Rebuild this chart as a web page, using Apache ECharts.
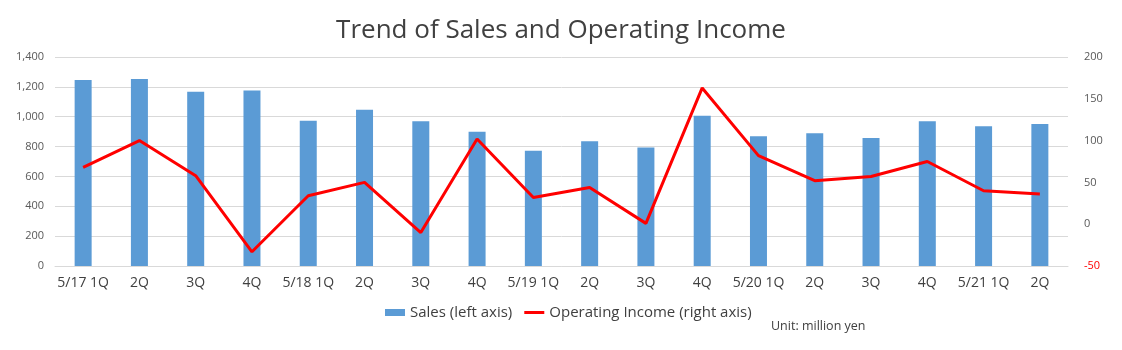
<!DOCTYPE html>
<html>
<head>
<meta charset="utf-8">
<script src="https://cdn.jsdelivr.net/npm/echarts@6/dist/echarts.min.js"></script>
<style>html,body{margin:0;padding:0;background:#fff}#c{width:1122px;height:350px}</style>
</head>
<body>
<div id="c"></div>
<script>
const categories = ['5/17 1Q','2Q','3Q','4Q','5/18 1Q','2Q','3Q','4Q','5/19 1Q','2Q','3Q','4Q','5/20 1Q','2Q','3Q','4Q','5/21 1Q','2Q'];
const sales = [1246,1252,1168,1175,973,1047,969,900,772,835,793,1007,869,889,857,969,936,951];
const operatingIncome = [68,100,58,-33,34,50,-10,102,32,44,1,163,82,52,57,75,40,36];
const leftTicks = [0,200,400,600,800,1000,1200,1400];
const rightTicks = [-50,0,50,100,150,200];

const chart = echarts.init(document.getElementById('c'), null, {renderer:'canvas'});
const font = '"Open Sans", "Noto Sans", sans-serif';
chart.setOption({
  animation:false,
  title:{text:'Trend of Sales and Operating Income',left:'center',top:13,
    textStyle:{fontFamily:font,fontSize:26,fontWeight:'normal',color:'#404040'}},
  grid:{left:55,right:54,top:57,bottom:84},
  legend:{bottom:25,left:380,itemGap:12,
    data:[{name:'Sales (left axis)',icon:'rect'},{name:'Operating Income (right axis)',icon:'path://M0,0 L20,0 L20,3 L0,3 Z',itemStyle:{color:'#FF0000'}}],
    itemWidth:20,itemHeight:7,
    textStyle:{fontFamily:font,fontSize:15,color:'#404040'}},
  graphic:[{type:'text',left:771,top:320,style:{text:'Unit: million yen',fontFamily:font,fontSize:12.5,fill:'#404040'}}],
  xAxis:{type:'category',data:categories,
    axisLine:{lineStyle:{color:'#D9D9D9',width:1}},axisTick:{show:false},
    axisLabel:{interval:0,fontFamily:font,fontSize:14,color:'#404040',margin:10}},
  yAxis:[
    {type:'value',min:leftTicks[0],max:leftTicks[leftTicks.length-1],interval:200,
      axisLine:{show:false},axisTick:{show:false},
      splitLine:{lineStyle:{color:'#D9D9D9'}},
      axisLabel:{fontFamily:font,fontSize:11,color:'#595959',margin:11,
        formatter:v=>v.toLocaleString('en-US')}},
    {type:'value',min:rightTicks[0],max:rightTicks[rightTicks.length-1],interval:50,
      axisLine:{show:false},axisTick:{show:false},splitLine:{show:false},
      axisLabel:{fontFamily:font,fontSize:11,margin:16,
        color:v=>v<0?'#FF0000':'#595959'}}
  ],
  series:[
    {name:'Sales (left axis)',type:'bar',data:sales,barWidth:17,yAxisIndex:0,
      itemStyle:{color:'#5B9BD5'}},
    {name:'Operating Income (right axis)',type:'line',data:operatingIncome,yAxisIndex:1,
      symbol:'none',lineStyle:{color:'#FF0000',width:3},itemStyle:{color:'#FF0000'}}
  ]
});
</script>
</body>
</html>
